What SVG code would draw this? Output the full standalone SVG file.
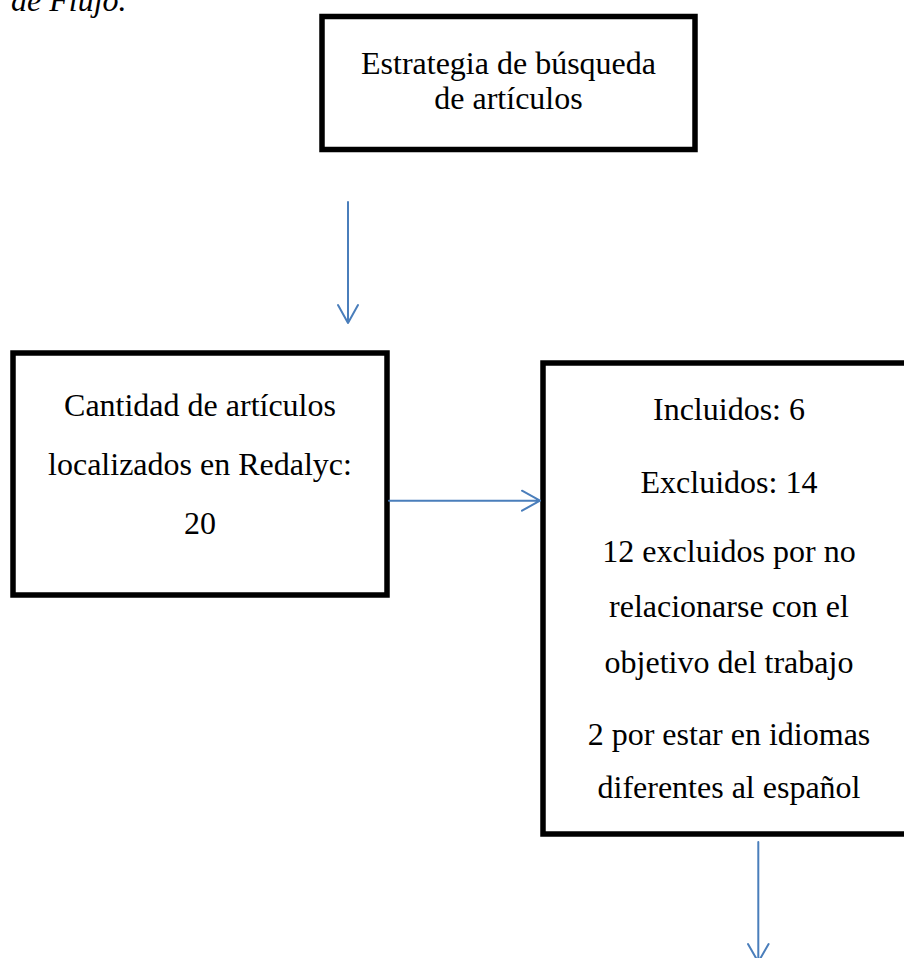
<svg xmlns="http://www.w3.org/2000/svg" width="904" height="958" viewBox="0 0 904 958">
<style>
.box{fill:#fff;stroke:#000;stroke-width:5.5}
.t{font-family:"Liberation Serif","Times New Roman",serif;font-size:32px;fill:#000;text-anchor:middle}
.cap{font-family:"Liberation Serif","Times New Roman",serif;font-size:32px;font-style:italic;fill:#000}
.c{fill:none;stroke:#4A7EBB;stroke-width:2;stroke-linecap:round;stroke-linejoin:round}
</style>
<rect width="904" height="958" fill="#fff"/>
<text class="cap" x="11" y="11">de Flujo.</text>
<g id="n1">
<rect class="box" x="322" y="16.5" width="373" height="133"/>
<text class="t" x="508.5" y="74">Estrategia de búsqueda</text>
<text class="t" x="508.5" y="109">de artículos</text>
</g>
<g id="n2">
<rect class="box" x="13" y="353" width="374" height="242"/>
<text class="t" x="200" y="416">Cantidad de artículos</text>
<text class="t" x="200" y="475">localizados en Redalyc:</text>
<text class="t" x="200" y="534">20</text>
</g>
<g id="n3">
<rect class="box" x="543" y="363" width="372" height="471"/>
<text class="t" x="729" y="420">Incluidos: 6</text>
<text class="t" x="729" y="493">Excluidos: 14</text>
<text class="t" x="729" y="562">12 excluidos por no</text>
<text class="t" x="729" y="617">relacionarse con el</text>
<text class="t" x="729" y="673">objetivo del trabajo</text>
<text class="t" x="729" y="745">2 por estar en idiomas</text>
<text class="t" x="729" y="798">diferentes al español</text>
</g>
<g id="connectors">
<path class="c" d="M348 202 V323 M338 305 L348 323 L358 305"/>
<path class="c" d="M389 500.7 H540 M522 490.7 L540 500.7 L522 510.7"/>
<path class="c" d="M758.3 842 V962 M748 944 L758.3 962 L768.6 944"/>
</g>
</svg>
